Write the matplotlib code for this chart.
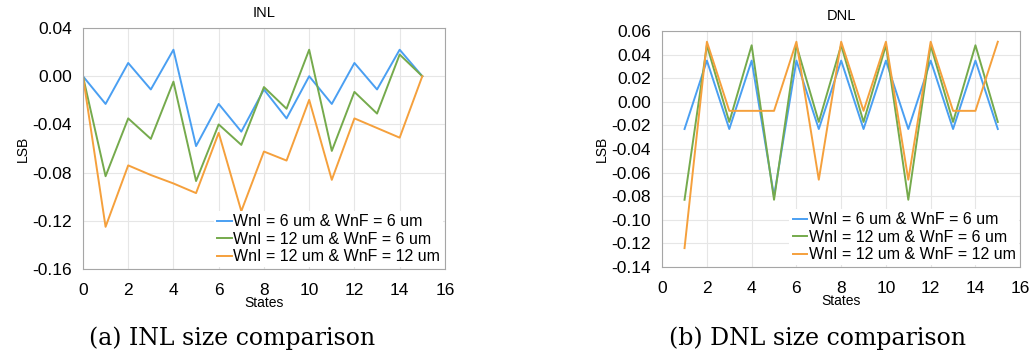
import matplotlib.pyplot as plt

plt.rcParams['font.family'] = ['Liberation Sans', 'DejaVu Sans']

labels = ["WnI = 6 um & WnF = 6 um",
          "WnI = 12 um & WnF = 6 um",
          "WnI = 12 um & WnF = 12 um"]
colors = ["#4a9ff2", "#75aa4c", "#f5a03c"]

# INL data (states 0..15)
inl_states = list(range(0, 16))
inl_6_6 = [0, -0.023, 0.011, -0.011, 0.022, -0.058, -0.023, -0.046,
           -0.011, -0.035, 0.0, -0.023, 0.011, -0.011, 0.022, 0]
inl_12_6 = [0, -0.083, -0.035, -0.052, -0.0045, -0.087, -0.040, -0.057,
            -0.009, -0.027, 0.022, -0.062, -0.013, -0.031, 0.018, 0]
inl_12_12 = [0, -0.125, -0.074, -0.082, -0.089, -0.097, -0.047, -0.112,
             -0.0625, -0.070, -0.0196, -0.086, -0.035, -0.043, -0.051, 0]

# DNL data (states 1..15)
dnl_states = list(range(1, 16))
dnl_6_6 = [-0.023, 0.035, -0.023, 0.035, -0.080, 0.035, -0.023, 0.035,
           -0.023, 0.035, -0.023, 0.035, -0.023, 0.035, -0.023]
dnl_12_6 = [-0.083, 0.048, -0.017, 0.048, -0.083, 0.048, -0.017, 0.048,
            -0.017, 0.048, -0.083, 0.048, -0.017, 0.048, -0.017]
dnl_12_12 = [-0.124, 0.051, -0.0076, -0.0076, -0.0076, 0.051, -0.066, 0.051,
             -0.0076, 0.051, -0.066, 0.051, -0.0076, -0.0076, 0.051]

fig = plt.figure(figsize=(10.33, 3.64), dpi=100)
ax1 = fig.add_axes([0.0803, 0.261, 0.3504, 0.662])
ax2 = fig.add_axes([0.641, 0.2665, 0.3466, 0.648])


def style(ax, title, yticks, ylim):
    ax.set_xlim(0, 16)
    ax.set_xticks(range(0, 17, 2))
    ax.set_ylim(*ylim)
    ax.set_yticks(yticks)
    ax.set_yticklabels(["%.2f" % v for v in yticks])
    ax.grid(True, color="#e6e6e6", linewidth=0.8)
    ax.set_axisbelow(True)
    for s in ax.spines.values():
        s.set_color("#a6a6a6")
    ax.tick_params(axis='both', labelsize=12.5, length=0, pad=8)
    ax.tick_params(axis='x', pad=10)
    ax.set_title(title, fontsize=10.5, pad=8)
    ax.set_xlabel("States", fontsize=10, labelpad=-1)
    ax.set_ylabel("LSB", fontsize=10, labelpad=2)
    leg = ax.legend(loc='lower right', fontsize=11.5, handlelength=0.9,
                    handletextpad=0.1, labelspacing=0.15, borderpad=0.2,
                    borderaxespad=0.1, fancybox=False, framealpha=1)
    leg.get_frame().set_edgecolor("none")


for y, c, l in zip([inl_6_6, inl_12_6, inl_12_12], colors, labels):
    ax1.plot(inl_states, y, color=c, linewidth=1.4, label=l)
style(ax1, "INL", [0.04, 0.0, -0.04, -0.08, -0.12, -0.16], (-0.16, 0.04))

for y, c, l in zip([dnl_6_6, dnl_12_6, dnl_12_12], colors, labels):
    ax2.plot(dnl_states, y, color=c, linewidth=1.4, label=l)
style(ax2, "DNL", [0.06 - 0.02 * i for i in range(11)], (-0.14, 0.06))

fig.text(0.2245, 0.072, "(a) INL size comparison", ha='center', va='center',
         fontsize=17, family='DejaVu Serif')
fig.text(0.791, 0.072, "(b) DNL size comparison", ha='center', va='center',
         fontsize=17, family='DejaVu Serif')

fig.savefig("out.png", dpi=100)
